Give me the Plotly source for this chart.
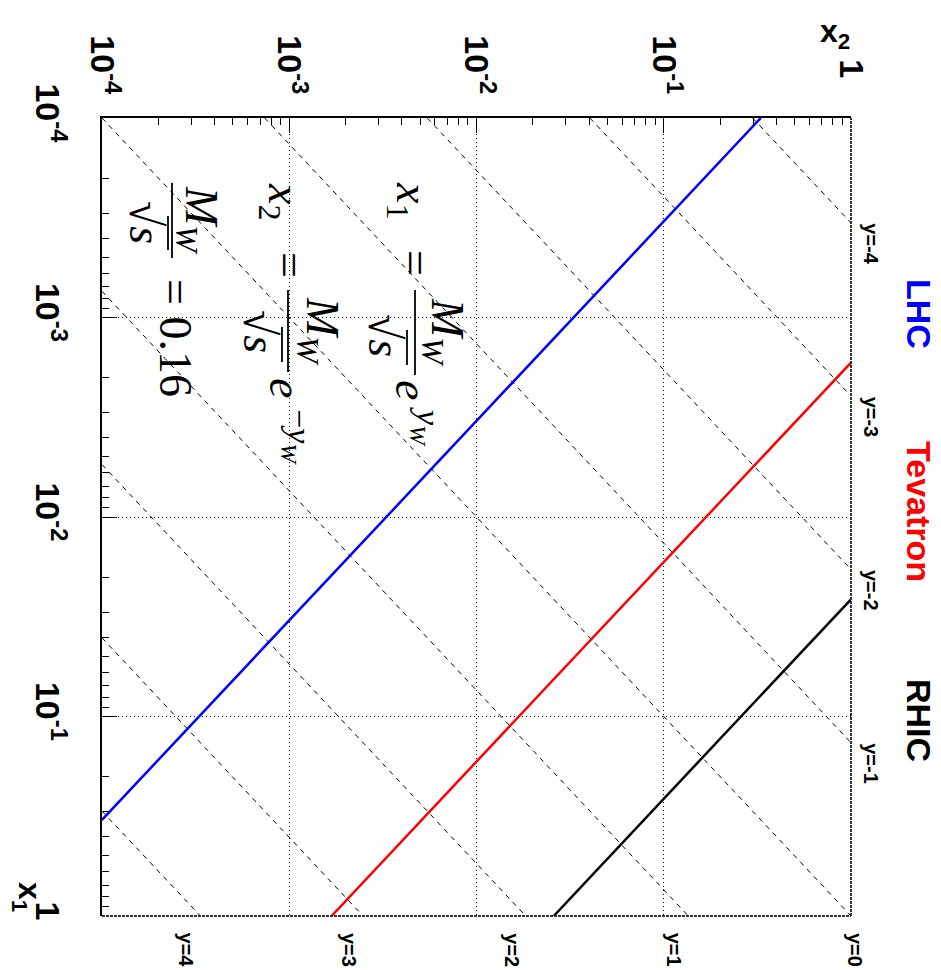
import math
import plotly.graph_objects as go

# ---------------- data ----------------
M_W = 80.4
colliders = ["LHC", "Tevatron", "RHIC"]
sqrt_s = [14000.0, 1960.0, 500.0]
collider_colors = ["#0000ff", "#ff0000", "#000000"]
rapidities = [-4, -3, -2, -1, 0, 1, 2, 3, 4]
major_vals = [1e-4, 1e-3, 1e-2, 1e-1, 1.0]
major_text = ["10<sup>-4</sup>", "10<sup>-3</sup>", "10<sup>-2</sup>", "10<sup>-1</sup>", "1\u00a0\u2009"]
major_text_y = ["10<sup>-4</sup>", "10<sup>-3</sup>", "10<sup>-2</sup>", "10<sup>-1</sup>", "1"]
minor_vals = [m * 10.0 ** e for e in range(-4, 0) for m in range(2, 10)]
XMIN, XMAX = 1e-4, 1.0

# ---------------- geometry (page has an 8px body margin) ----------------
OFF = 8
SW, SH = 941, 970                    # screen size
W, H = SW - OFF, SH - OFF            # figure size
FL, FT, FR, FB = 102, 118, 851, 916  # frame in screen pixels
ML, MT = FL - OFF, FT - OFF
MR, MB = SW - FR, SH - FB
PW, PH = W - ML - MR, H - MT - MB


def pxx(x):
    return (x - FL) / PW


def pxy(y):
    return (FB - y) / PH


fig = go.Figure()

# rapidity lines (dashed)
for yv in rapidities:
    d = math.exp(2 * yv)
    lo = max(XMIN, XMIN / d)
    hi = min(XMAX, XMAX / d)
    fig.add_trace(go.Scatter(x=[lo, hi], y=[lo * d, hi * d], mode="lines",
                             line=dict(color="black", width=1, dash="5px,5px"),
                             hoverinfo="skip"))

# collider lines x1*x2 = (M_W/sqrt(s))^2
for name, rs, col in zip(colliders, sqrt_s, collider_colors):
    tau = (M_W / rs) ** 2
    a = max(XMIN, tau / XMAX)
    b = min(XMAX, tau / XMIN)
    fig.add_trace(go.Scatter(x=[a, b], y=[tau / a, tau / b], mode="lines",
                             line=dict(color=col, width=2.5), name=name,
                             hoverinfo="skip"))

tickfont = dict(family="Liberation Sans", size=34, color="black", weight="bold")
common = dict(type="log", tickvals=major_vals, tickangle=90, tickfont=tickfont,
              ticks="inside", ticklen=15, tickcolor="black", tickwidth=1,
              showline=True, linecolor="black", linewidth=1.5,
              showgrid=True, gridcolor="black", griddash="1px,3px", gridwidth=1,
              minor=dict(tickvals=minor_vals, ticks="inside", ticklen=7,
                         tickcolor="black", tickwidth=1, showgrid=False),
              zeroline=False, automargin=False)
fig.update_xaxes(range=[-4, 0], side="top", ticktext=major_text,
                 ticklabelstandoff=10, **common)
fig.update_yaxes(range=[0, -4], ticktext=major_text_y,
                 ticklabelstandoff=23, **common)

annotations = []
shapes = []

# right/bottom frame
shapes.append(dict(type="line", xref="paper", yref="paper", x0=1, x1=1, y0=0, y1=1,
                   line=dict(color="#333333", width=2, dash="3px,1px")))
shapes.append(dict(type="line", xref="paper", yref="paper", x0=0, x1=1, y0=0, y1=0,
                   line=dict(color="#333333", width=2, dash="3px,1px")))

labfont = dict(family="Liberation Sans", size=20, color="black", weight="bold")
# rapidity labels
for yv in rapidities:
    d = math.exp(2 * yv)
    if yv < 0:
        annotations.append(dict(x=pxx(871), xref="paper", y=math.log10(d), yref="y",
                                text=f"y={yv}", textangle=90, showarrow=False,
                                xanchor="center", yanchor="top", yshift=2, font=labfont))
    else:
        annotations.append(dict(x=math.log10(1.0 / d), xref="x", y=pxy(950), yref="paper",
                                text=f"y={yv}", textangle=90, showarrow=False,
                                xanchor="center", yanchor="middle",
                                xshift=(4 if yv == 0 else -14), font=labfont))

# collider names
name_pos = [(919, 314), (919, 511), (919, 720)]
for name, col, (cx, cy) in zip(colliders, collider_colors, name_pos):
    annotations.append(dict(x=pxx(cx), y=pxy(cy), xref="paper", yref="paper",
                            text=name, textangle=90, showarrow=False,
                            xanchor="center", yanchor="middle",
                            font=dict(family="Liberation Sans", size=34, color=col,
                                      weight="bold")))

# axis titles
annotations.append(dict(x=pxx(852), y=pxy(34), xref="paper", yref="paper",
                        text="x<sub>2</sub>", showarrow=False,
                        xanchor="right", yanchor="middle",
                        font=dict(family="Liberation Sans", size=32, color="black",
                                  weight="bold")))
annotations.append(dict(x=pxx(28), y=pxy(897), xref="paper", yref="paper",
                        text="x<sub>1</sub>", textangle=90, showarrow=False,
                        xanchor="center", yanchor="middle",
                        font=dict(family="Liberation Sans", size=32, color="black",
                                  weight="bold")))

# formulas (rotated)
mfont = dict(family="Liberation Serif", size=46, color="black")
sfont = dict(family="Liberation Serif", size=34, color="black")


def txt(cx, cy, t, f=mfont):
    annotations.append(dict(x=pxx(cx), y=pxy(cy), xref="paper", yref="paper",
                            text=t, textangle=90, showarrow=False,
                            xanchor="center", yanchor="middle", font=f))


def bar(x, y0, y1):
    shapes.append(dict(type="line", xref="paper", yref="paper",
                       x0=pxx(x), x1=pxx(x), y0=pxy(y0), y1=pxy(y1),
                       line=dict(color="black", width=1.8)))


MW = "<i>M</i><sub><i>W</i></sub>"
SQ = "\u221a<i>s</i>"
# x1 = M_W/sqrt(s) e^{y_W}
txt(409, 201, "<i>x</i><sub>1</sub>")
txt(415, 263, "=")
bar(415, 290, 375)
txt(444, 332, MW)
txt(385, 335, SQ)
bar(407, 330, 365)
txt(412, 390, "<i>e</i>")
txt(426, 427, "<i>y</i><sub><i>W</i></sub>", sfont)
# x2 = M_W/sqrt(s) e^{-y_W}
txt(281, 202, "<i>x</i><sub>2</sub>")
txt(290, 265, "=")
bar(288, 290, 372)
txt(319, 331, MW)
txt(260, 331, SQ)
bar(282, 327, 362)
txt(286, 388, "<i>e</i>")
txt(297, 437, "\u2212<i>y</i><sub><i>W</i></sub>", sfont)
# M_W/sqrt(s) = 0.16
bar(172, 183, 258)
txt(198, 220, MW)
txt(146, 222, SQ)
bar(168, 216, 250)
txt(176, 338, "= 0.16")

fig.update_layout(width=W, height=H, margin=dict(l=ML, r=MR, t=MT, b=MB),
                  plot_bgcolor="white", paper_bgcolor="white", showlegend=False,
                  annotations=annotations, shapes=shapes)

fig.write_html("out.html")
